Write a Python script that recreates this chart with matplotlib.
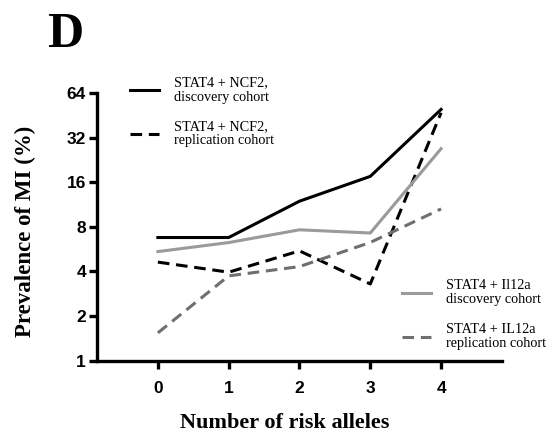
import matplotlib
matplotlib.use("Agg")
import matplotlib.pyplot as plt
from matplotlib.ticker import FixedLocator, FixedFormatter, NullLocator

alleles = [0, 1, 2, 3, 4]
ncf2_discovery = [6.77, 6.77, 11.9, 17.5, 49.5]
ncf2_replication = [4.62, 3.95, 5.5, 3.29, 47.0]
il12a_discovery = [5.44, 6.26, 7.63, 7.26, 26.9]
il12a_replication = [1.54, 3.73, 4.31, 6.27, 10.55]
yticks = [1, 2, 4, 8, 16, 32, 64]
ytick_labels = ["1", "2", "4", "8", "16", "32", "64"]
labels = ["STAT4 + NCF2,\ndiscovery cohort", "STAT4 + NCF2,\nreplication cohort",
          "STAT4 + Il12a\ndiscovery cohort", "STAT4 + IL12a\nreplication cohort"]

fig = plt.figure(figsize=(5.48, 4.34), dpi=100)
ax = fig.add_axes([0.177, 0.169, 0.739, 0.617])

lw = 2.2
l1, = ax.plot(alleles, ncf2_discovery, color="black", lw=lw)
l2, = ax.plot(alleles, ncf2_replication, color="black", lw=lw, dashes=(3.8, 2.2))
l3, = ax.plot(alleles, il12a_discovery, color="#9a9a9a", lw=lw)
l4, = ax.plot(alleles, il12a_replication, color="#6f6f6f", lw=lw, dashes=(3.8, 2.2))

ax.set_yscale("log", base=2)
ax.set_ylim(1, 64)
ax.set_xlim(-0.86, 4.86)
ax.yaxis.set_major_locator(FixedLocator(yticks))
ax.yaxis.set_major_formatter(FixedFormatter(ytick_labels))
ax.yaxis.set_minor_locator(NullLocator())
ax.set_xticks(alleles)
ax.set_xticklabels([str(a) for a in alleles])

for s in ["top", "right"]:
    ax.spines[s].set_visible(False)
for s in ["left", "bottom"]:
    ax.spines[s].set_linewidth(2.4)
ax.tick_params(axis="both", direction="out", length=6, width=2.4,
               labelsize=12.5, pad=2)
ax.tick_params(axis="x", pad=9)
for t in ax.get_xticklabels() + ax.get_yticklabels():
    t.set_fontfamily("Liberation Sans")
    t.set_fontweight("bold")

ax.set_xlabel("Number of risk alleles", fontfamily="Liberation Serif",
              fontweight="bold", fontsize=16, labelpad=12, x=0.464)
ax.set_ylabel("Prevalence of MI (%)", fontfamily="Liberation Serif",
              fontweight="bold", fontsize=16.5, labelpad=22, y=0.484)

fig.text(47 / 548, 1 - 12 / 434, "D", fontfamily="Liberation Serif",
         fontweight="bold", fontsize=36, va="top", ha="left")

leg_kw = dict(frameon=False, handlelength=2.0, handletextpad=1.1,
              labelspacing=1.15, borderpad=0, borderaxespad=0,
              prop={"family": "Liberation Serif", "size": 10.3})
leg1 = fig.legend([l1, l2], labels[:2], loc="upper left",
                  bbox_to_anchor=(130 / 548, 1 - 76 / 434), **leg_kw)
leg2 = fig.legend([l3, l4], labels[2:], loc="upper left",
                  bbox_to_anchor=(402 / 548, 1 - 279 / 434), **leg_kw)
for leg in (leg1, leg2):
    for t in leg.get_texts():
        t.set_linespacing(1.15)

fig.savefig("out.png", dpi=100)
